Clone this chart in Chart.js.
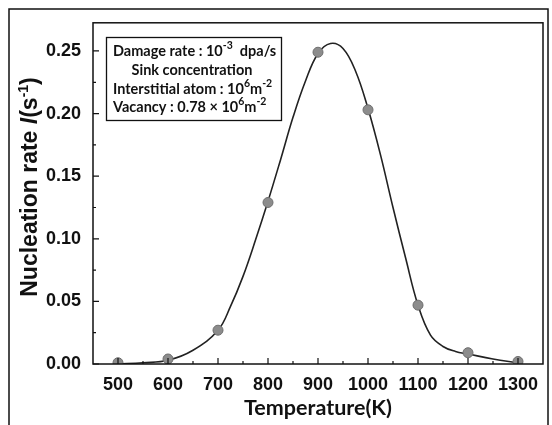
<!DOCTYPE html>
<html>
<head>
<meta charset="utf-8">
<script src="https://cdn.jsdelivr.net/npm/chart.js@4"></script>
<style>
  body { margin: 0; background: #fff; }
  #wrap { width: 552px; height: 425px; }
</style>
</head>
<body>
<div id="wrap"><canvas id="myChart" width="552" height="425"></canvas></div>
<script>
// measured points
const temps = [500, 600, 700, 800, 900, 1000, 1100, 1200, 1300];
const rates = [0.001, 0.004, 0.027, 0.129, 0.249, 0.203, 0.047, 0.009, 0.002];

// fitted curve
const curveT = [500, 550, 600, 650, 700, 725, 750, 775, 800, 825, 850, 875, 900, 925, 950, 975, 1000, 1025, 1050, 1075, 1100, 1125, 1150, 1175, 1200, 1250, 1300];
const curveR = [0.000, 0.001, 0.003, 0.011, 0.027, 0.046, 0.070, 0.099, 0.130, 0.163, 0.197, 0.226, 0.248, 0.256, 0.252, 0.234, 0.204, 0.167, 0.125, 0.085, 0.047, 0.023, 0.014, 0.010, 0.008, 0.004, 0.001];

const xTicks = [500, 600, 700, 800, 900, 1000, 1100, 1200, 1300];
const yTicks = [0, 0.05, 0.10, 0.15, 0.20, 0.25];
const xMinor = [550, 650, 750, 850, 950, 1050, 1150, 1250];
const yMinor = [0.025, 0.075, 0.125, 0.175, 0.225];

// frame, inward ticks, axis title and the text box
const decorations = {
  id: 'decorations',
  afterDraw(chart) {
    const ctx = chart.ctx;
    const a = chart.chartArea;
    const xs = chart.scales.x, ys = chart.scales.y;
    ctx.save();
    ctx.strokeStyle = '#111';
    // outer frame
    ctx.lineWidth = 1.5;
    ctx.strokeRect(9, 9, 539, 430);
    // plot box
    ctx.strokeRect(a.left, a.top, a.right - a.left, a.bottom - a.top);
    // ticks
    ctx.lineWidth = 1.2;
    ctx.beginPath();
    xTicks.forEach(v => { let p = xs.getPixelForValue(v); ctx.moveTo(p, a.bottom); ctx.lineTo(p, a.bottom - 6); });
    xMinor.forEach(v => { let p = xs.getPixelForValue(v); ctx.moveTo(p, a.bottom); ctx.lineTo(p, a.bottom - 3); });
    yTicks.forEach(v => { let p = ys.getPixelForValue(v); ctx.moveTo(a.left, p); ctx.lineTo(a.left + 6, p); });
    yMinor.forEach(v => { let p = ys.getPixelForValue(v); ctx.moveTo(a.left, p); ctx.lineTo(a.left + 3, p); });
    ctx.stroke();

    // y title
    ctx.fillStyle = '#111';
    ctx.translate(31, 187);
    ctx.rotate(-Math.PI / 2);
    ctx.textBaseline = 'middle';
    const big = 'bold 23px "Liberation Sans", Arial, sans-serif';
    const bigI = 'italic bold 23px "Liberation Sans", Arial, sans-serif';
    const sup = 'bold 14px "Liberation Sans", Arial, sans-serif';
    const parts = [['Nucleation rate ', big, 0], ['I', bigI, 0], ['(s', big, 0], ['-1', sup, -7], [')', big, 0]];
    let total = 0;
    parts.forEach(p => { ctx.font = p[1]; total += ctx.measureText(p[0]).width; });
    let x = -total / 2;
    parts.forEach(p => { ctx.font = p[1]; ctx.fillText(p[0], x, p[2]); x += ctx.measureText(p[0]).width; });
    ctx.setTransform(1, 0, 0, 1, 0, 0);

    // text box
    ctx.lineWidth = 1.3;
    ctx.strokeRect(106.5, 37.5, 175, 83);
    const f = 'bold 14.5px Lato, "Open Sans", sans-serif';
    const fs = 'bold 10.5px Lato, "Open Sans", sans-serif';
    const line = (segs, x0, y0) => {
      let xx = x0;
      segs.forEach(s => {
        ctx.font = s[1] ? fs : f;
        ctx.fillText(s[0], xx, y0 + (s[1] ? -5 : 0));
        xx += ctx.measureText(s[0]).width;
      });
    };
    ctx.textBaseline = 'middle';
    ctx.textAlign = 'left';
    line([['Damage rate : 10', 0], ['-3', 1], ['  dpa/s', 0]], 113, 51);
    ctx.textAlign = 'center';
    ctx.font = f;
    ctx.fillText('Sink concentration', 192, 70);
    ctx.textAlign = 'left';
    line([['Interstitial atom : 10', 0], ['6', 1], ['m', 0], ['-2', 1]], 113, 89);
    line([['Vacancy : 0.78 \u00d7 10', 0], ['6', 1], ['m', 0], ['-2', 1]], 113, 107);
    ctx.restore();
  }
};

const config = {
  type: 'scatter',
  data: {
    datasets: [
      {
        label: 'fit',
        data: curveT.map((t, i) => ({ x: t, y: curveR[i] })),
        showLine: true,
        borderColor: '#222',
        borderWidth: 1.6,
        pointRadius: 0,
        tension: 0.4,
        order: 2
      },
      {
        label: 'points',
        data: temps.map((t, i) => ({ x: t, y: rates[i] })),
        pointRadius: 5,
        pointBackgroundColor: '#8c8c8c',
        pointBorderColor: '#6e6e6e',
        pointBorderWidth: 1,
        order: 1
      }
    ]
  },
  options: {
    responsive: false,
    animation: false,
    layout: { padding: { left: 10, right: 9, top: 19, bottom: 0 } },
    plugins: { legend: { display: false }, tooltip: { enabled: false } },
    scales: {
      x: {
        type: 'linear', min: 450, max: 1350,
        afterBuildTicks: s => { s.ticks = xTicks.map(v => ({ value: v })); },
        afterFit: s => { s.height = 61; },
        grid: { display: false, drawTicks: false },
        border: { display: false },
        ticks: { color: '#111', padding: 10, maxRotation: 0, autoSkip: false,
          callback: v => String(v),
          font: { family: '"Liberation Sans", Arial, sans-serif', size: 18, weight: 'bold' } },
        title: { display: true, text: 'Temperature(K)', color: '#111', padding: { top: 1 },
          font: { family: 'Lato, "Open Sans", sans-serif', size: 21.5, weight: 'bold' } }
      },
      y: {
        type: 'linear', min: 0, max: 0.2725,
        afterBuildTicks: s => { s.ticks = yTicks.map(v => ({ value: v })); },
        afterFit: s => { s.width = 83; },
        grid: { display: false, drawTicks: false },
        border: { display: false },
        ticks: { color: '#111', padding: 12, autoSkip: false,
          callback: v => v.toFixed(2),
          font: { family: '"Liberation Sans", Arial, sans-serif', size: 18, weight: 'bold' } }
      }
    }
  },
  plugins: [decorations]
};

new Chart(document.getElementById('myChart'), config);
</script>
</body>
</html>
